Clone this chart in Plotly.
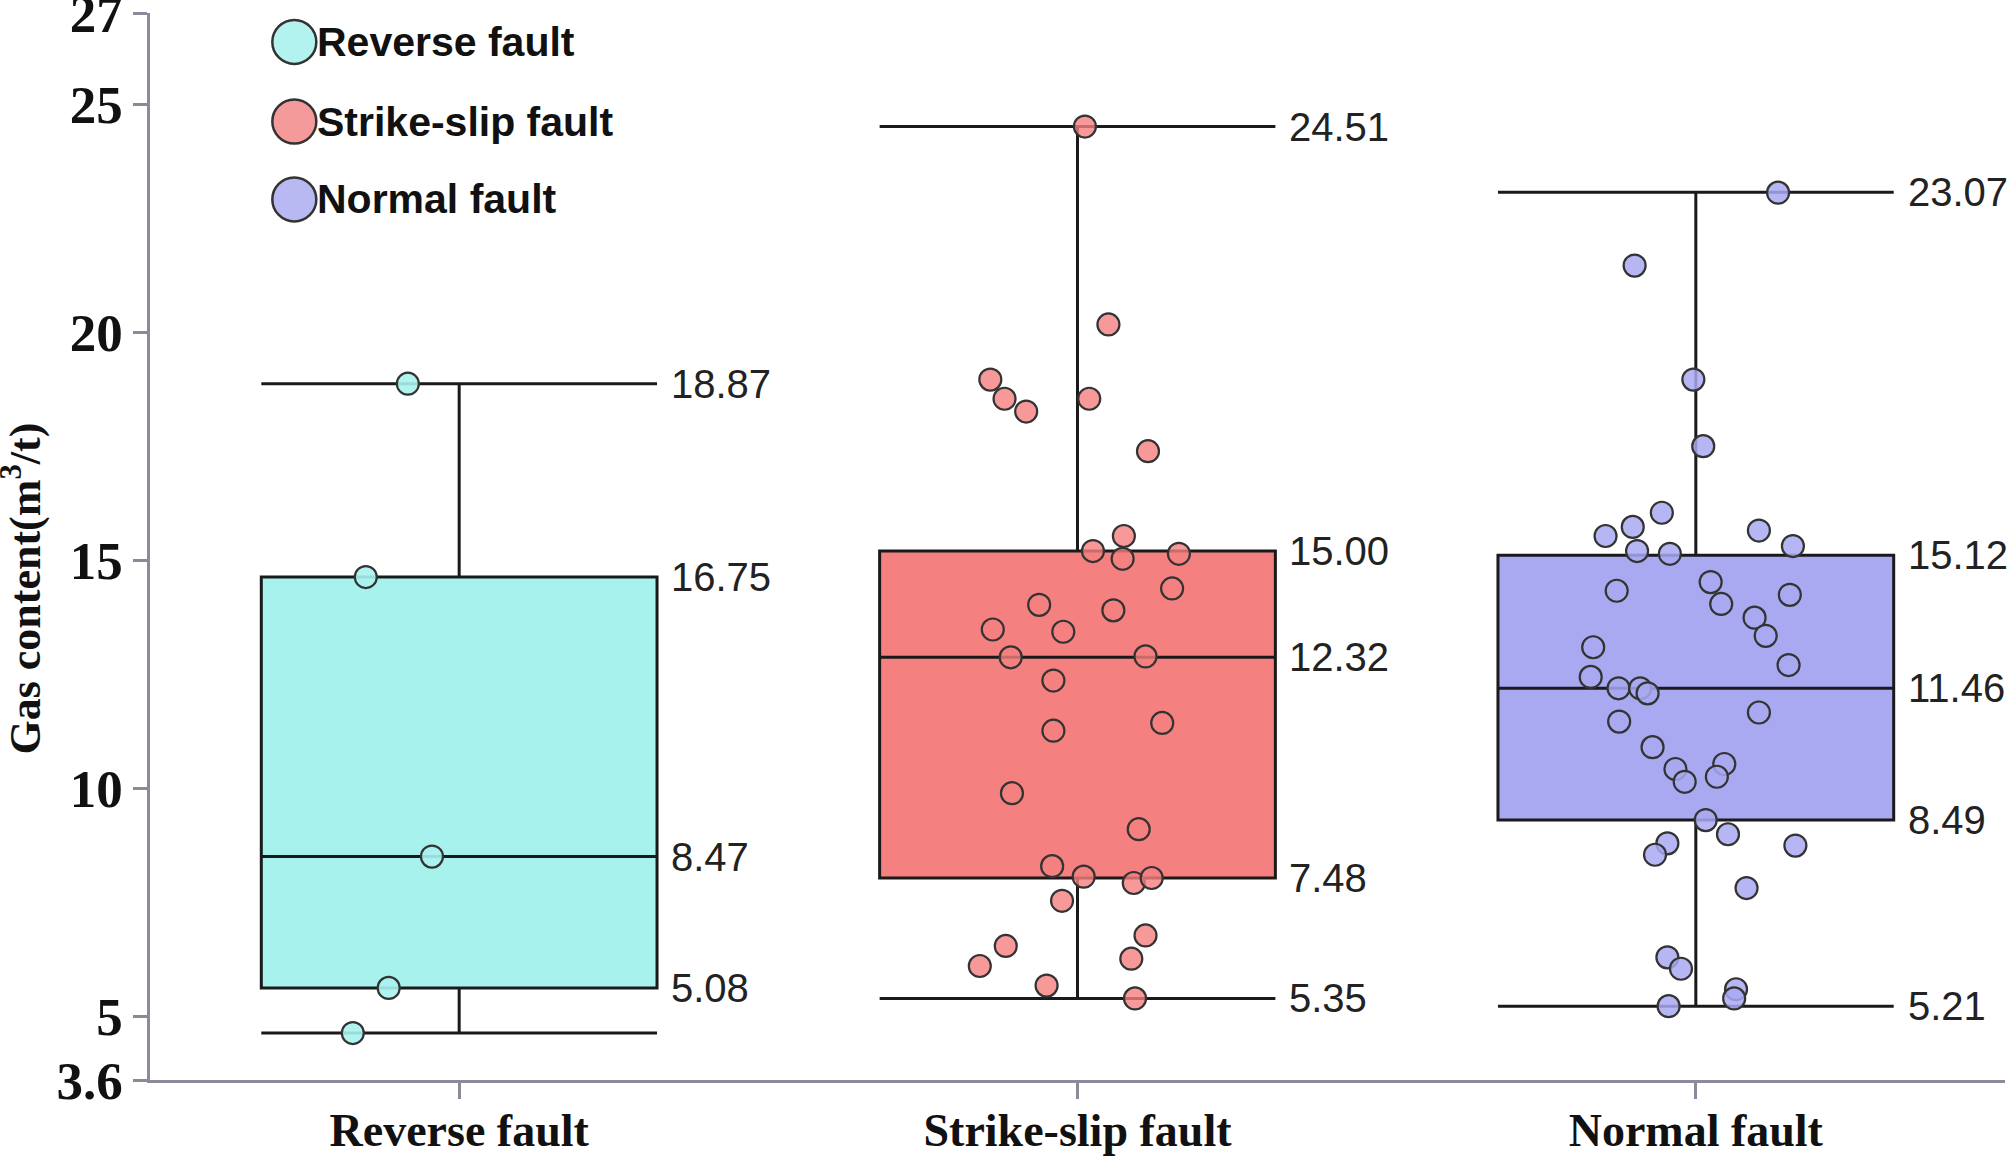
import plotly.graph_objects as go

# ---------------- data ----------------
categories = ["Reverse fault", "Strike-slip fault", "Normal fault"]
fill_colors = ["#a8f2ee", "#f58080", "#a9a9f2"]
point_colors = ["rgba(168,242,238,0.9)", "rgba(245,128,128,0.8)", "rgba(169,169,242,0.85)"]
legend_colors = ["#b2f3ef", "#f59a9a", "#b8b8f2"]

# box statistics (as drawn)
q1_vals = [5.62, 8.03, 9.30]
median_vals = [8.50, 12.87, 12.19]
q3_vals = [14.63, 15.20, 15.11]
lower_vals = [4.63, 5.39, 5.22]
upper_vals = [18.87, 24.51, 23.07]

# value labels printed beside each box (text, y position)
reverse_label_text = ["18.87", "16.75", "8.47", "5.08"]
reverse_label_y = [18.87, 14.63, 8.50, 5.62]
strike_label_text = ["24.51", "15.00", "12.32", "7.48", "5.35"]
strike_label_y = [24.51, 15.20, 12.87, 8.03, 5.39]
normal_label_text = ["23.07", "15.12", "11.46", "8.49", "5.21"]
normal_label_y = [23.07, 15.11, 12.19, 9.30, 5.22]

# individual samples: value and horizontal jitter offset (category units)
reverse_values = [18.87, 14.63, 8.50, 5.62, 4.63]
reverse_offsets = [-0.083, -0.151, -0.044, -0.114, -0.172]

strike_values = [24.51, 20.17, 18.96, 18.54, 18.26, 18.54, 17.39, 15.53, 15.20, 15.03,
                 15.14, 14.38, 14.02, 13.90, 13.48, 13.43, 12.87, 12.89, 12.36, 11.43,
                 11.26, 9.89, 9.10, 8.29, 8.06, 7.92, 8.03, 7.53, 6.77, 6.54,
                 6.10, 6.26, 5.67, 5.39]
strike_offsets = [0.012, 0.050, -0.141, -0.118, -0.083, 0.019, 0.114, 0.075, 0.025, 0.073,
                  0.164, 0.153, -0.062, 0.058, -0.137, -0.023, -0.108, 0.110, -0.039, 0.137,
                  -0.039, -0.106, 0.099, -0.041, 0.010, 0.091, 0.120, -0.025, 0.110, -0.116,
                  -0.158, 0.087, -0.050, 0.093]

normal_values = [23.06, 21.46, 18.96, 17.50, 16.04, 15.73, 15.53, 15.65, 15.31, 15.20,
                 15.14, 14.52, 14.33, 14.24, 14.04, 13.74, 13.34, 13.09, 12.70, 12.44,
                 12.19, 12.19, 12.08, 11.66, 11.46, 10.90, 10.53, 10.42, 10.25, 10.14,
                 9.30, 8.99, 8.79, 8.54, 8.74, 7.81, 6.29, 6.04, 5.59, 5.39, 5.22]
normal_offsets = [0.133, -0.099, -0.004, 0.012, -0.055, -0.102, -0.146, 0.102, 0.157, -0.095,
                  -0.042, 0.024, -0.128, 0.152, 0.041, 0.095, 0.113, -0.166, 0.150, -0.170,
                  -0.125, -0.090, -0.078, 0.102, -0.124, -0.070, 0.046, -0.033, 0.034, -0.018,
                  0.016, 0.052, -0.046, -0.066, 0.161, 0.082, -0.046, -0.024, 0.065, 0.062, -0.044]

y_tickvals = [3.6, 5, 10, 15, 20, 25, 27]
y_ticktext = ["3.6", "5", "10", "15", "20", "25", "27"]

# ---------------- figure ----------------
BOX_W = 0.64
fig = go.Figure()

for i, cat in enumerate(categories):
    fig.add_trace(go.Box(
        x=[i], q1=[q1_vals[i]], median=[median_vals[i]], q3=[q3_vals[i]],
        lowerfence=[lower_vals[i]], upperfence=[upper_vals[i]],
        width=BOX_W, whiskerwidth=1, boxpoints=False,
        fillcolor=fill_colors[i], line=dict(color="#1a1a1a", width=3),
        showlegend=False, hoverinfo="skip",
    ))

all_vals = [reverse_values, strike_values, normal_values]
all_offs = [reverse_offsets, strike_offsets, normal_offsets]
for i in range(3):
    fig.add_trace(go.Scatter(
        x=[i + o for o in all_offs[i]], y=all_vals[i], mode="markers",
        marker=dict(size=22, color=point_colors[i], line=dict(color="#333333", width=2.2)),
        showlegend=False, hoverinfo="skip",
    ))

annotations = []
label_sets = [(reverse_label_text, reverse_label_y), (strike_label_text, strike_label_y),
              (normal_label_text, normal_label_y)]
for i, (texts, ys) in enumerate(label_sets):
    for t, yv in zip(texts, ys):
        annotations.append(dict(
            x=i + BOX_W / 2, y=yv, xref="x", yref="y", text=t, showarrow=False,
            xanchor="left", yanchor="middle", xshift=12,
            font=dict(family="Liberation Sans", size=40, color="#222222"),
        ))

# y-axis title
annotations.append(dict(
    x=-0.0693, y=0.461, xref="paper", yref="paper", text="Gas content(m<sup>3</sup>/t)",
    textangle=-90, showarrow=False, xanchor="center", yanchor="middle",
    font=dict(family="Liberation Serif", size=44, color="#111111", weight="bold"),
))

# legend (manual, large circles)
legend_y = [0.9729, 0.8983, 0.8253]
shapes = []
for i, cat in enumerate(categories):
    shapes.append(dict(
        type="circle", xref="paper", yref="paper", xsizemode="pixel", ysizemode="pixel",
        xanchor=0.0778, yanchor=legend_y[i], x0=-22, x1=22, y0=-22, y1=22,
        fillcolor=legend_colors[i], line=dict(color="#333333", width=2.5),
    ))
    annotations.append(dict(
        x=0.0889, y=legend_y[i], xref="paper", yref="paper", text=cat, showarrow=False,
        xanchor="left", yanchor="middle",
        font=dict(family="Liberation Sans", size=41, color="#111111", weight="bold"),
    ))

axis_color = "#8a8a98"
fig.update_layout(
    width=2008, height=1159,
    margin=dict(l=150, r=3, t=13, b=79, autoexpand=False),
    plot_bgcolor="white", paper_bgcolor="white",
    showlegend=False,
    annotations=annotations, shapes=shapes,
    xaxis=dict(
        range=[-0.5, 2.5], tickvals=[0, 1, 2], ticktext=categories,
        showline=True, linecolor=axis_color, linewidth=2.5,
        ticks="outside", ticklen=16, tickwidth=2.5, tickcolor=axis_color,
        showgrid=False, zeroline=False, ticklabelstandoff=-8, automargin=False,
        tickfont=dict(family="Liberation Serif", size=46, color="#111111", weight="bold"),
    ),
    yaxis=dict(
        range=[3.6, 27], tickvals=y_tickvals, ticktext=y_ticktext,
        showline=True, linecolor=axis_color, linewidth=2.5,
        ticks="outside", ticklen=14, tickwidth=2.5, tickcolor=axis_color,
        showgrid=False, zeroline=False, ticklabeloverflow="allow", ticklabelstandoff=0,
        automargin=False,
        tickfont=dict(family="Liberation Serif", size=53, color="#111111", weight="bold"),
    ),
)

fig.write_html("out.html", config={"displayModeBar": False},
               post_script="document.body.style.margin='0px';")
